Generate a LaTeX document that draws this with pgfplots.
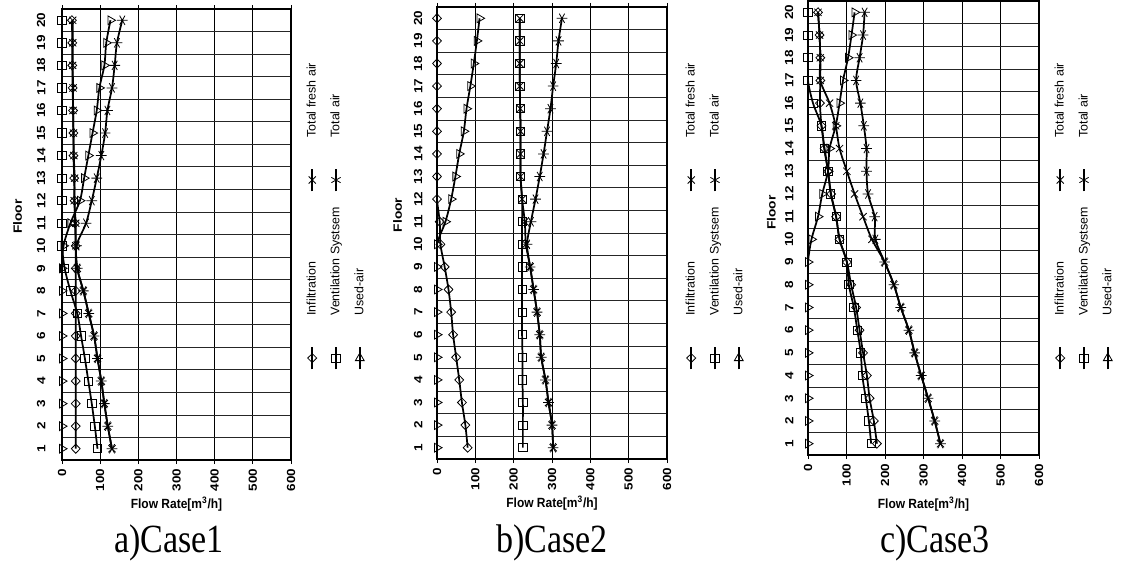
\documentclass[border=0pt]{standalone}
\usepackage{fontspec}
\setmainfont{Liberation Sans}[BoldFont={Liberation Sans Bold}]
\newfontfamily\tickfont[FakeStretch=1.15]{Liberation Sans Bold}
\newfontfamily\narrowbold[FakeStretch=0.9]{Liberation Sans Bold}
\newfontfamily\capfont[FakeStretch=0.85]{Liberation Serif}
\usepackage{pgfplots}
\usepackage{pgfplotstable}
\pgfplotsset{compat=1.18}

\pgfplotstableread{
floor inf vent used tf ta
1 36 93 0 131 131
2 36 86 0 120 120
3 36 78 0 111 111
4 36 69 0 103 103
5 36 60 0 93 93
6 36 50 0 84 84
7 36 40 0 70 70
8 36 22 0 56 56
9 36 7 0 40 40
10 36 0 4 36 38
11 34 0 22 36 63
12 33 0 47 32 78
13 32 0 58 33 91
14 30 0 69 31 103
15 30 0 80 30 113
16 29 0 91 29 119
17 28 0 98 29 131
18 27 0 111 28 138
19 27 0 116 28 144
20 26 0 127 28 158
}\caseone

\pgfplotstableread{
floor inf vent used tf ta
1 80 224 0 303 303
2 74 224 0 300 300
3 65 224 0 291 291
4 58 223 0 283 283
5 50 223 0 272 272
6 42 222 0 268 268
7 37 222 0 261 261
8 30 222 0 252 252
9 20 222 0 243 243
10 9 222 0 232 235
11 7 222 22 229 245
12 0 222 37 222 257
13 0 218 48 218 268
14 0 218 58 218 278
15 0 218 70 218 287
16 0 217 77 217 296
17 0 216 87 216 303
18 0 216 96 216 311
19 0 216 104 216 317
20 0 216 111 216 326
}\casetwo

\pgfplotstableread{
floor inf vent used tf ta
1 179 164 0 344 344
2 171 158 0 329 329
3 160 150 0 312 312
4 153 141 0 294 294
5 143 137 0 277 277
6 134 128 0 262 262
7 125 119 0 241 241
8 112 106 0 223 223
9 101 101 0 199 199
10 82 82 9 166 175
11 73 73 26 143 173
12 60 59 37 121 156
13 52 52 52 101 152
14 43 42 56 82 152
15 35 35 72 72 145
16 31 13 82 56 136
17 32 0 91 32 125
18 32 0 104 32 134
19 30 0 113 30 143
20 26 0 121 26 147
}\casethree

\pgfplotsset{
  floorplot/.style={
    scale only axis,
    anchor=south west,
    xmin=0, xmax=600, ymin=0.5, ymax=20.5,
    xtick={0,100,...,600},
    ytick={1,...,20},
    minor ytick={0.5,1.5,...,20.5},
    xmajorgrids, yminorgrids,
    major grid style={black, line width=0.6pt},
    minor grid style={black!85, line width=0.6pt},
    axis line style={black, line width=0.8pt},
    tick align=outside,
    major tick length=3pt,
    xtick style={black, line width=0.6pt},
    ytick style={draw=none},
    /pgf/number format/assume math mode=true,
    tick label style={font=\tickfont\fontsize{8.8pt}{10pt}\selectfont},
    xticklabel style={rotate=90, anchor=east},
    yticklabel style={rotate=90, anchor=south},
    xlabel={Flow Rate[m\textsuperscript{3}/h]},
    ylabel={Floor},
    legend columns=2,
    legend cell align=left,
    legend style={draw=none, fill=none,
      font=\fontsize{9.3pt}{11pt}\selectfont,
      nodes={inner sep=1pt},
      /tikz/every odd column/.append style={column sep=21.75pt},
      /tikz/every even column/.append style={column sep=10.25pt},
      row sep=7.6pt},
  },
  ylab/.style 2 args={every axis y label/.style={at={(rel axis cs:0,#1)}, xshift=#2, rotate=90, anchor=center, font=\tickfont\fontsize{9pt}{10pt}\selectfont}},
  xlab/.style={every axis x label/.style={at={(rel axis cs:0.5,0)}, yshift=#1, anchor=center, font=\narrowbold\fontsize{10pt}{12pt}\selectfont}},
  pl/.style={black, line width=1.3pt, smooth, tension=0.5},
  sinf/.style={pl, mark=diamond, mark size=3.4pt, mark options={line width=0.6pt, solid, xscale=1.3}},
  svent/.style={pl, mark=square, mark size=3.1pt, mark options={line width=0.6pt, solid}},
  sused/.style={pl, mark=triangle, mark size=3.8pt, mark options={line width=0.6pt, solid, rotate=-90}},
  stf/.style={pl, mark=x, mark size=3.8pt, mark options={line width=0.6pt, solid}},
  sta/.style={pl, mark=asterisk, mark size=4pt, mark options={line width=0.6pt, solid, rotate=90}},
}

\newcommand{\drawseries}[1]{%
  \addplot[sinf] table[x=inf, y=floor] {#1};
  \addlegendentry{Infiltration}
  \addplot[stf] table[x=tf, y=floor] {#1};
  \addlegendentry{Total fresh air}
  \addplot[svent] table[x=vent, y=floor] {#1};
  \addlegendentry{Ventilation Systsem}
  \addplot[sta] table[x=ta, y=floor] {#1};
  \addlegendentry{Total air}
  \addplot[sused] table[x=used, y=floor] {#1};
  \addlegendentry{Used-air}
}

\begin{document}
\begin{tikzpicture}
\useasboundingbox (0,0) rectangle (840.75pt,423.75pt);

\begin{axis}[floorplot, at={(46.5pt,78.75pt)}, width=171.75pt, height=338.25pt,
  yticklabel shift=6pt,
  ylab={0.54}{-33.4pt}, xlab=-33pt,
  legend to name=legone]
\drawseries{\caseone}
\end{axis}
\node[rotate=90, inner sep=0pt] at (252pt,261.75pt) {\pgfplotslegendfromname{legone}};

\begin{axis}[floorplot, at={(327.75pt,79.5pt)}, width=172.5pt, height=339pt,
  yticklabel shift=4.5pt,
  ylab={0.54}{-29.6pt}, xlab=-33.4pt,
  legend to name=legtwo]
\drawseries{\casetwo}
\end{axis}
\node[rotate=90, inner sep=0pt] at (536.25pt,261.75pt) {\pgfplotslegendfromname{legtwo}};

\begin{axis}[floorplot, at={(606pt,82.5pt)}, width=173.25pt, height=340.5pt,
  yticklabel shift=4.5pt,
  ylab={0.534}{-27.5pt}, xlab=-36.75pt,
  legend to name=legthree]
\drawseries{\casethree}
\end{axis}
\node[rotate=90, inner sep=0pt] at (813pt,261.75pt) {\pgfplotslegendfromname{legthree}};

\node[font=\capfont\fontsize{30pt}{32pt}\selectfont] at (126.75pt,16.5pt) {a)Case1};
\node[font=\capfont\fontsize{30pt}{32pt}\selectfont] at (414pt,16.5pt) {b)Case2};
\node[font=\capfont\fontsize{30pt}{32pt}\selectfont] at (701.25pt,16.5pt) {c)Case3};
\end{tikzpicture}
\end{document}
